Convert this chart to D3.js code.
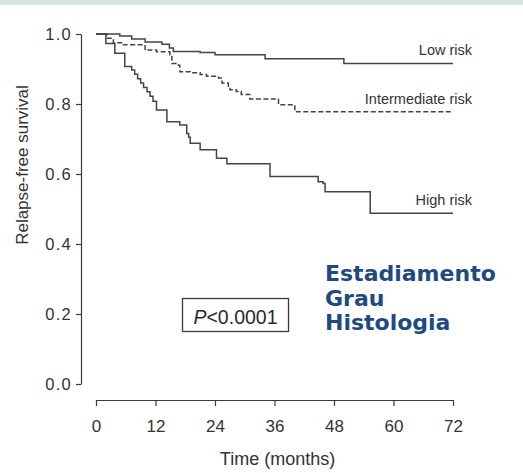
<!DOCTYPE html>
<html>
<head>
<meta charset="utf-8">
<script src="https://cdn.jsdelivr.net/npm/d3@7"></script>
<style>
  html, body { margin: 0; padding: 0; background: #fff; }
  svg { display: block; }
  .axis path, .axis line { stroke: #3a3a3a; stroke-width: 1.2; }
  .axis text { fill: #333; font-family: "Liberation Sans", Arial, sans-serif; }
</style>
</head>
<body>
<svg id="chart" width="523" height="473"></svg>
<script>
// Kaplan-Meier relapse-free survival by risk group (step times in months)
const monthTicks = [0, 12, 24, 36, 48, 60, 72];
const survivalTicks = [0, 0.2, 0.4, 0.6, 0.8, 1.0];

const lowTime = [0, 4.8, 7.2, 9.9, 13.3, 14.8, 15.6, 21.0, 24.0, 34.1, 50.0, 72];
const lowSurv = [1.0, 0.994, 0.986, 0.977, 0.971, 0.960, 0.950, 0.947, 0.941, 0.929, 0.916, 0.916];

const midTime = [0, 2.2, 3.5, 5.5, 9.9, 12.2, 14.9, 15.3, 16.6, 16.9, 19.0, 21.0, 22.3, 24.7, 25.4,
                 26.7, 27.0, 28.3, 29.3, 31.0, 36.8, 40.1, 72];
const midSurv = [1.0, 0.988, 0.975, 0.969, 0.954, 0.949, 0.940, 0.916, 0.911, 0.892, 0.889, 0.884, 0.879, 0.874, 0.860,
                 0.851, 0.841, 0.836, 0.827, 0.814, 0.798, 0.778, 0.778];

const highTime = [0, 2.0, 3.8, 5.8, 7.2, 7.8, 8.4, 9.0, 9.6, 10.3, 10.9, 11.5, 12.2, 14.3, 16.9, 18.3,
                  18.7, 19.0, 21.0, 24.3, 26.4, 35.1, 44.8, 45.8, 46.2, 55.3, 72];
const highSurv = [1.0, 0.973, 0.945, 0.907, 0.897, 0.885, 0.872, 0.860, 0.847, 0.835, 0.822, 0.808, 0.783, 0.749, 0.740, 0.716,
                  0.705, 0.688, 0.669, 0.645, 0.629, 0.593, 0.578, 0.573, 0.549, 0.488, 0.488];

const groupNames = ["Low risk", "Intermediate risk", "High risk"];
const factorLines = ["Estadiamento", "Grau", "Histologia"];
const pText = "<0.0001";

const svg = d3.select("#chart");
const font = '"Liberation Sans", Arial, sans-serif';

// thin header band
svg.append("rect").attr("x", 0).attr("y", 0).attr("width", 523).attr("height", 5)
  .attr("fill", "#d9e5db");

const x = d3.scaleLinear().domain([0, 72]).range([96, 453]);
const y = d3.scaleLinear().domain([0, 1]).range([384, 34]);

// axes
const yAxis = svg.append("g").attr("class", "axis").attr("transform", "translate(81,0)")
  .call(d3.axisLeft(y).tickValues(survivalTicks).tickFormat(d3.format(".1f"))
    .tickSize(5).tickSizeOuter(0).tickPadding(4));
yAxis.selectAll("text").attr("font-size", 16.5).attr("letter-spacing", 1.3);

const xAxis = svg.append("g").attr("class", "axis").attr("transform", "translate(0,400)")
  .call(d3.axisBottom(x).tickValues(monthTicks).tickFormat(d3.format("d"))
    .tickSize(6).tickSizeOuter(0).tickPadding(14));
xAxis.selectAll("text").attr("font-size", 17);

// axis titles
svg.append("text")
  .attr("transform", "translate(28,165) rotate(-90)")
  .attr("text-anchor", "middle").attr("font-family", font).attr("font-size", 17)
  .attr("fill", "#333").text("Relapse-free survival");

svg.append("text")
  .attr("x", (x(0) + x(72)) / 2 + 3).attr("y", 465)
  .attr("text-anchor", "middle").attr("font-family", font).attr("font-size", 18)
  .attr("fill", "#333").text("Time (months)");

// survival curves
const line = d3.line().x(d => x(d[0])).y(d => y(d[1])).curve(d3.curveStepAfter);
const series = [
  { t: lowTime, s: lowSurv, dash: null },
  { t: midTime, s: midSurv, dash: "5,2.5" },
  { t: highTime, s: highSurv, dash: null }
];
series.forEach(sr => {
  svg.append("path")
    .datum(sr.t.map((t, i) => [t, sr.s[i]]))
    .attr("d", line)
    .attr("fill", "none")
    .attr("stroke", "#444")
    .attr("stroke-width", 1.5)
    .attr("stroke-dasharray", sr.dash);
});

// group labels, placed above each curve's final level
const finals = [lowSurv[lowSurv.length - 1], midSurv[midSurv.length - 1], highSurv[highSurv.length - 1]];
groupNames.forEach((name, i) => {
  svg.append("text")
    .attr("x", 472).attr("y", y(finals[i]) - 8)
    .attr("text-anchor", "end").attr("font-family", font).attr("font-size", 14.5)
    .attr("fill", "#333").text(name);
});

// p-value box
svg.append("rect").attr("x", 182.5).attr("y", 298.5).attr("width", 106).attr("height", 33)
  .attr("fill", "none").attr("stroke", "#3a3a3a").attr("stroke-width", 1.3);
const pt = svg.append("text").attr("x", 235.5).attr("y", 324)
  .attr("text-anchor", "middle").attr("font-family", font).attr("font-size", 19.5)
  .attr("fill", "#2a2a2a");
pt.append("tspan").attr("font-style", "italic").text("P");
pt.append("tspan").text(pText);

// prognostic factors
factorLines.forEach((t, i) => {
  svg.append("text")
    .attr("x", 325).attr("y", 281 + i * 24.5)
    .attr("font-family", '"DejaVu Sans", Verdana, sans-serif')
    .attr("font-weight", "bold").attr("font-size", 22)
    .attr("fill", "#1f4a7f").text(t);
});
</script>
</body>
</html>
